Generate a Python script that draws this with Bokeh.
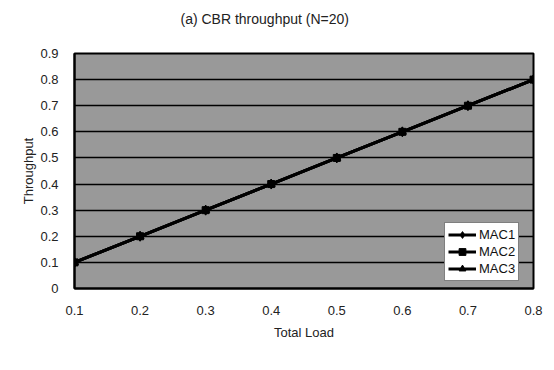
from bokeh.plotting import figure
from bokeh.models import Range1d, FixedTicker, Legend, LegendItem, Title
from bokeh.embed import file_html
from bokeh.resources import INLINE

loads = [0.1, 0.2, 0.3, 0.4, 0.5, 0.6, 0.7, 0.8]
mac1 = [0.1, 0.2, 0.3, 0.4, 0.5, 0.6, 0.7, 0.8]
mac2 = [0.1, 0.2, 0.3, 0.4, 0.5, 0.6, 0.7, 0.8]
mac3 = [0.1, 0.2, 0.3, 0.4, 0.5, 0.6, 0.7, 0.8]
x_ticks = [0.1, 0.2, 0.3, 0.4, 0.5, 0.6, 0.7, 0.8]
y_ticks = [0, 0.1, 0.2, 0.3, 0.4, 0.5, 0.6, 0.7, 0.8, 0.9]
title_text = "(a) CBR throughput (N=20)"

FONT = "Liberation Sans"

p = figure(width=546, height=362, output_backend="svg", toolbar_location=None,
           title_location=None,
           x_range=Range1d(0.1, 0.8), y_range=Range1d(0, 0.9),
           min_border_left=74, min_border_right=13, min_border_top=53, min_border_bottom=74)

spacer = Title(text=" ", text_font=FONT, text_font_size="14px", standoff=1)
p.add_layout(spacer, "above")
title = Title(text=title_text, text_font=FONT, text_font_size="14px",
              text_font_style="normal", text_color="#222222",
              align="left", offset=106, standoff=16)
p.add_layout(title, "above")

p.background_fill_color = "#999999"
p.border_fill_color = "white"
p.outline_line_color = "black"
p.outline_line_width = 2

p.xgrid.grid_line_color = None
p.ygrid.grid_line_color = "black"
p.ygrid.grid_line_width = 1.5
p.ygrid.grid_line_alpha = 1.0

for ax in (p.xaxis[0], p.yaxis[0]):
    ax.axis_line_color = "black"
    ax.axis_line_width = 2
    ax.major_tick_line_color = None
    ax.minor_tick_line_color = None
    ax.major_label_text_font = FONT
    ax.major_label_text_font_size = "13px"
    ax.major_label_text_color = "#222222"
    ax.axis_label_text_font = FONT
    ax.axis_label_text_font_size = "13px"
    ax.axis_label_text_font_style = "normal"
    ax.axis_label_text_color = "#222222"

p.xaxis.ticker = FixedTicker(ticks=x_ticks)
p.yaxis.ticker = FixedTicker(ticks=y_ticks)
p.yaxis.major_label_overrides = {0: "0"}
p.xaxis.axis_label = "Total Load"
p.yaxis.axis_label = "Throughput"
p.xaxis.major_label_standoff = 11
p.yaxis.major_label_standoff = 10
p.xaxis.axis_label_standoff = 7
p.yaxis.axis_label_standoff = 1

l1 = p.line(loads, mac1, line_color="black", line_width=3)
m1 = p.scatter(loads, mac1, marker="diamond", size=10, color="black")
l2 = p.line(loads, mac2, line_color="black", line_width=3)
m2 = p.scatter(loads, mac2, marker="square", size=7, color="black")
l3 = p.line(loads, mac3, line_color="black", line_width=3)
m3 = p.scatter(loads, mac3, marker="triangle", size=8, color="black")

legend = Legend(items=[
    LegendItem(label="MAC1", renderers=[l1, m1]),
    LegendItem(label="MAC2", renderers=[l2, m2]),
    LegendItem(label="MAC3", renderers=[l3, m3]),
], location=(370, 7))
legend.label_text_font = FONT
legend.label_text_font_size = "13px"
legend.label_text_color = "#111111"
legend.background_fill_color = "white"
legend.background_fill_alpha = 1.0
legend.border_line_color = "black"
legend.border_line_width = 1.5
legend.padding = 3
legend.spacing = 0
legend.margin = 0
legend.label_standoff = 3
legend.glyph_width = 28
legend.glyph_height = 17
legend.label_height = 17
p.add_layout(legend, "center")

open("out.html", "w").write(file_html(p, INLINE))
